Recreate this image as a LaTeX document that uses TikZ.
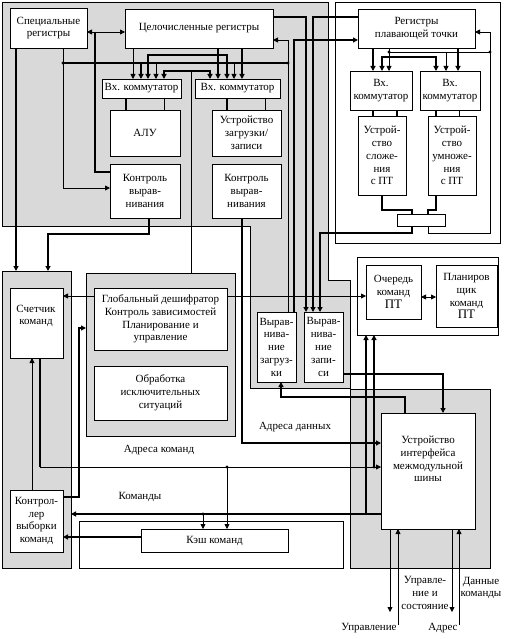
\documentclass[tikz,border=0pt]{standalone}
\usepackage{fontspec}
\setmainfont{Liberation Serif}
\usetikzlibrary{arrows.meta,calc}
\tikzset{
  zone/.style={draw,fill=black!15,line width=0.6pt,inner sep=0pt,outer sep=0pt,anchor=north west},
  frame/.style={draw,fill=white,line width=0.6pt,inner sep=0pt,outer sep=0pt,anchor=north west},
  blk/.style={draw,fill=white,line width=0.7pt,align=center,inner sep=0pt,outer sep=0pt,anchor=north west},
  txt/.style={align=center,inner sep=0pt},
  thn/.style={line width=0.8pt},
  thk/.style={line width=2.4pt},
  arr/.style={-{Triangle[length=5pt,width=5pt]}},
  arrs/.style={{Triangle[length=5pt,width=5pt]}-{Triangle[length=5pt,width=5pt]}}
}
\begin{document}
\begin{tikzpicture}[x=1pt,y=-1pt,font=\fontsize{11}{12.8}\selectfont]
  \useasboundingbox (0,0) rectangle (507,639);
  % gray areas and frames
  \draw[zone] (2,2) -- (328,2) -- (328,280) -- (350,280) -- (350,388) -- (250,388) -- (250,226) -- (2,226) -- cycle;
  \node[zone,minimum width=140,minimum height=179] (busz) at (350,389) {};
  \node[zone,minimum width=69,minimum height=297] (lcol) at (2,271) {};
  \node[zone,minimum width=149,minimum height=163] (decz) at (86,273) {};
  \node[frame,minimum width=165,minimum height=241] (fpfr) at (335,2) {};
  \node[frame,minimum width=141,minimum height=78] (qfr) at (357,257) {};
  \node[frame,minimum width=264,minimum height=47] (cfr) at (79,521) {};

  % integer unit
  \node[blk,minimum width=77,minimum height=40] (spec) at (10,8) {Специальные\\регистры};
  \node[blk,minimum width=148,minimum height=39] (ireg) at (125,9) {Целочисленные регистры};
  \node[blk,minimum width=79,minimum height=19] (icom1) at (102,79) {Вх. коммутатор};
  \node[blk,minimum width=85,minimum height=19] (icom2) at (195,79) {Вх. коммутатор};
  \node[blk,minimum width=70,minimum height=46] (alu) at (110,110) {АЛУ};
  \node[blk,minimum width=69,minimum height=46] (lsu) at (212,110) {Устройство\\загрузки/\\записи};
  \node[blk,minimum width=70,minimum height=54] (chk1) at (110,164) {Контроль\\вырав-\\нивания};
  \node[blk,minimum width=69,minimum height=54] (chk2) at (212,164) {Контроль\\вырав-\\нивания};

  % floating point unit
  \node[blk,minimum width=117,minimum height=39] (freg) at (358,9) {Регистры\\плавающей точки};
  \node[blk,minimum width=62,minimum height=39] (fcom1) at (350,71) {Вх.\\коммутатор};
  \node[blk,minimum width=60,minimum height=39] (fcom2) at (420,71) {Вх.\\коммутатор};
  \node[blk,minimum width=48,minimum height=79] (fadd) at (358,116) {Устрой-\\ство\\сложе-\\ния\\с ПТ};
  \node[blk,minimum width=48,minimum height=79] (fmul) at (428,116) {Устрой-\\ство\\умноже-\\ния\\с ПТ};
  \node[blk,minimum width=48,minimum height=12] (fsel) at (397,214) {};
  \node[blk,minimum width=55,minimum height=54] (fq) at (366,265) {Очередь\\команд\\{\fontsize{13}{14}\selectfont ПТ}};
  \node[blk,minimum width=61,minimum height=62] (fsch) at (436,265) {Планиров\\щик\\команд\\{\fontsize{13}{14}\selectfont ПТ}};

  % alignment
  \node[blk,minimum width=39,minimum height=70] (ldal) at (257,312) {Вырав-\\нива-\\ние\\загруз-\\ки};
  \node[blk,minimum width=39,minimum height=70] (stal) at (304,312) {Вырав-\\нива-\\ние\\запи-\\си};

  % fetch and control
  \node[blk,minimum width=53,minimum height=70] (pc) at (10,288) {};
  \node[txt] (pct) at (36,316) {Счетчик\\команд};
  \node[blk,minimum width=133,minimum height=62] (dec) at (94,288) {Глобальный дешифратор\\Контроль зависимостей\\Планирование и\\управление};
  \node[blk,minimum width=133,minimum height=54] (exc) at (94,366) {Обработка\\исключительных\\ситуаций};
  \node[blk,minimum width=53,minimum height=62] (ifu) at (10,490) {Контрол-\\лер\\выборки\\команд};
  \node[blk,minimum width=147,minimum height=23] (icache) at (141,529) {Кэш команд};
  \node[blk,minimum width=94,minimum height=116] (biu) at (381,413) {};
  \node[txt] (biut) at (428,459) {Устройство\\интерфейса\\межмодульной\\шины};

  % labels
  \node[txt] (lbia) at (159,450) {Адреса команд};
  \node[txt] (lbi) at (140,497) {Команды};
  \node[txt] (lbda) at (295,427) {Адреса данных};
  \node[txt] (lbcs) at (425,593) {Управле-\\ние и\\состояние};
  \node[txt] (lbdc) at (481,588) {Данные\\команды};
  \node[txt] (lbc) at (369,628) {Управление};
  \node[txt] (lba) at (443,628) {Адрес};

  % free ends
  \coordinate (ctlout) at (390,612);
  \coordinate (ctlin) at (398,625);
  \coordinate (adrout) at (452,612);
  \coordinate (datin) at (459,625);

  % integer unit wiring
  \draw[thn,arrs] (spec.east |- 0,32) -- (ireg.west |- 0,32);
  \draw[thk] (95,32) |- (chk1.west |- 0,172);
  \draw[thn,arr] (spec.south -| 63,0) |- (chk1.west |- 0,188);
  \draw[thk,arr] (spec.south -| 16,0) -- (lcol.north -| 16,0);
  \draw[thk,arr] (chk1.south -| 149,0) |- (48,234) -- (lcol.north -| 48,0);
  \draw[thk] (63,63) -- (288,63);
  \fill (63,63) circle (1.6) (288,63) circle (1.6);
  \draw[thn,arr] (ireg.south -| 133,0) -- (icom1.north -| 133,0);
  \draw[thk,arr] (141,63) -- (icom1.north -| 141,0);
  \draw[thk,arrs] (icom1.north -| 148,0) |- (227,55) -- (icom2.north -| 227,0);
  \draw[thn,arr] (156,63) -- (icom1.north -| 156,0);
  \draw[thk,arrs] (icom1.north -| 164,0) |- (210,71) -- (icom2.north -| 210,0);
  \draw[thk,arr] (ireg.south -| 218,0) -- (icom2.north -| 218,0);
  \draw[thn,arr] (234,63) -- (icom2.north -| 234,0);
  \draw[thk,arr] (ireg.south -| 242,0) -- (icom2.north -| 242,0);
  \draw[thn] (191,71) -- (decz.north -| 191,0);
  \draw[thk] (icom1.south -| 126,0) -- (alu.north -| 126,0);
  \draw[thn] (icom1.south -| 164,0) -- (alu.north -| 164,0);
  \draw[thk] (icom2.south -| 227,0) -- (lsu.north -| 227,0);
  \draw[thn] (icom2.south -| 265,0) -- (lsu.north -| 265,0);
  \draw[thk,arr] (chk2.south -| 242,0) |- (biu.west |- 0,443);

  % registers <-> alignment
  \draw[thk,arr] (ireg.east |- 0,17) -| (stal.north -| 306,0);
  \draw[thk,arr] (freg.west |- 0,17) -| (stal.north -| 313,0);
  \draw[thn,arr] (ldal.north -| 288,0) |- (ireg.east |- 0,40);
  \draw[thk,arr] (ldal.north -| 294,0) |- (freg.west |- 0,40);

  % floating point wiring
  \draw[thk,arr] (freg.south -| 373,0) -- (fcom1.north -| 373,0);
  \draw[thn,arr] (freg.south -| 389,0) -- (fcom1.north -| 389,0);
  \draw[thk,arrs] (fcom1.north -| 382,0) |- (436,57) -- (fcom2.north -| 436,0);
  \draw[thn] (389,52) -- (490,52);
  \fill (389,52) circle (1.6) (490,52) circle (1.6);
  \draw[thn,arr] (446,52) -- (fcom2.north -| 446,0);
  \draw[thk,arr] (freg.south -| 458,0) -- (fcom2.north -| 458,0);
  \draw[thk] (fcom1.south -| 373,0) -- (fadd.north -| 373,0);
  \draw[thk] (fcom1.south -| 397,0) -- (fadd.north -| 397,0);
  \draw[thk] (fcom2.south -| 436,0) -- (fmul.north -| 436,0);
  \draw[thn] (fcom2.south -| 459,0) -- (fmul.north -| 459,0);
  \draw[thk] (fadd.south -| 382,0) |- (412,210) -- (fsel.north -| 412,0);
  \draw[thk] (fmul.south -| 436,0) |- (428,210) -- (fsel.north -| 428,0);
  \draw[thk,arr] (fsel.south -| 412,0) |- (320,233) -- (stal.north -| 320,0);
  \draw[thn,arr] (fsel.south -| 428,0) |- (490,233) -- (490,32) -- (freg.east |- 0,32);

  % queue
  \draw[thn,arrs] (fq.east |- 0,297) -- (fsch.west |- 0,297);
  \draw[thn,arr] (dec.east |- 0,296) -- (fq.west |- 0,296);
  \draw[thn,arr] (dec.west |- 0,296) -- (pc.east |- 0,296);
  \draw[thk,arr] (374,467) -- (qfr.south -| 374,0);
  \draw[thk,arr] (366,514) -- (qfr.south -| 366,0);

  % alignment <-> bus interface
  \draw[thk,arr] (stal.east |- 0,374) -| (biu.north -| 443,0);
  \draw[thk,arr] (biu.north -| 405,0) |- (281,397) -- (ldal.south -| 281,0);

  % fetch
  \draw[thk,arr] (ifu.east |- 0,497) -| (79,328) -- (decz.west |- 0,328);
  \draw[thn,arr] (ifu.north -| 32,0) -- (pc.south -| 32,0);
  \draw[thk] (pc.south -| 40,0) -- (40,467);
  \draw[thn,arr] (40,467) -- (biu.west |- 0,467);
  \draw[thn,arr] (227,467) -- (icache.north -| 227,0);
  \draw[thk,arr] (biu.west |- 0,514) -- (lcol.east |- 0,514);
  \draw[thn,arr] (203,514) -- (icache.north -| 203,0);
  \draw[thk,arr] (icache.west |- 0,537) -- (ifu.east |- 0,537);
  \fill (227,467) circle (1.6) (203,514) circle (1.6) (374,467) circle (1.6);

  % external bus
  \draw[thn,arr] (biu.south -| 390,0) -- (ctlout);
  \draw[thn,arr] (ctlin) -- (biu.south -| 398,0);
  \draw[thn,arr] (biu.south -| 452,0) -- (adrout);
  \draw[thn,arr] (datin) -- (biu.south -| 459,0);
\end{tikzpicture}
\end{document}
